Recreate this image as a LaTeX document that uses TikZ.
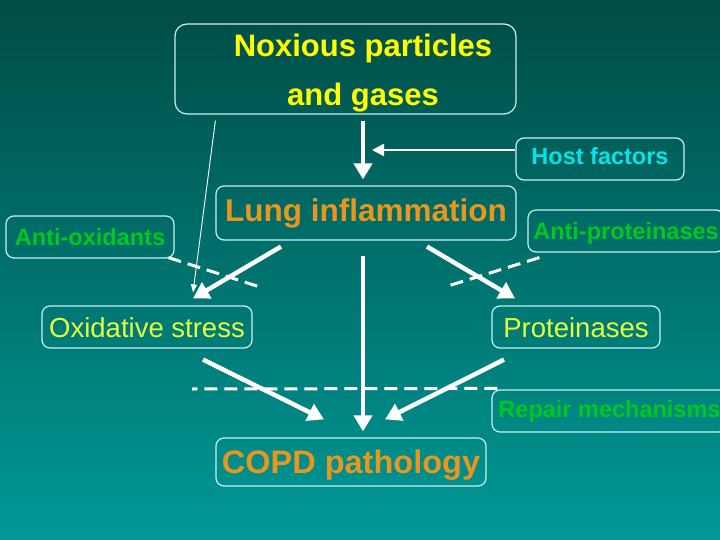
\documentclass[tikz,border=0pt]{standalone}
\usepackage{fontspec}
\setmainfont{Liberation Sans}
\usetikzlibrary{arrows.meta,calc}
\definecolor{bgtop}{RGB}{0,76,70}
\definecolor{bgbot}{RGB}{0,152,150}
\definecolor{boxline}{RGB}{200,240,240}
\definecolor{noxyellow}{RGB}{255,255,0}
\definecolor{paleyellow}{RGB}{228,255,60}
\definecolor{copdorange}{RGB}{232,150,30}
\definecolor{guardgreen}{RGB}{0,200,30}
\definecolor{hostcyan}{RGB}{0,230,230}

\begin{document}
\begin{tikzpicture}
  [x=1pt,y=-1pt,
   box/.style={draw=boxline,line width=1.2pt,rounded corners=8pt,inner sep=0pt,
     text depth=0pt,minimum height=42pt},
   guard/.style={box,text=guardgreen,text height=17pt,font=\fontsize{23.5}{28}\selectfont\bfseries},
   stage/.style={box,text=paleyellow,text height=20pt,font=\fontsize{27.5}{33}\selectfont},
   bigarrow/.style={white,line width=4.5pt,-{Triangle[length=16pt,width=18pt]}},
   blocker/.style={white,line width=3pt,dash pattern=on 13pt off 7pt}]
  \useasboundingbox (0,0) rectangle (720,540);
  \fill[top color=bgtop,bottom color=bgbot] (0,0) rectangle (720,540);

  \node[box,rounded corners=12pt,minimum width=341pt,minimum height=90pt] (noxious) at (345.5,69) {};
  \node[text=noxyellow,font=\fontsize{31}{49}\selectfont\bfseries,align=center] (noxioustext) at (363,73) {Noxious particles\\and gases};
  \node[box,minimum width=168pt,text=hostcyan,text height=17pt,text depth=6pt,font=\fontsize{23.5}{28}\selectfont\bfseries] (host) at (600,159) {Host factors};
  \node[box,minimum width=300pt,minimum height=54pt,text=copdorange,text height=22.5pt,text depth=6pt,font=\fontsize{31.5}{38}\selectfont\bfseries] (lung) at (366,213) {Lung inflammation};
  \node[guard,minimum width=168pt] (antiox) at (90,237) {Anti-oxidants};
  \node[guard,minimum width=196pt] (antiprot) at (626,231) {Anti-proteinases};
  \node[stage,minimum width=210pt] (oxid) at (147,327) {Oxidative stress};
  \node[stage,minimum width=168pt] (prot) at (576,327) {Proteinases};
  \node[guard,minimum width=235pt,text depth=5pt] (repair) at (609.5,411) {Repair mechanisms};
  \node[box,minimum width=270pt,minimum height=48pt,text=copdorange,text height=23.3pt,font=\fontsize{32.5}{39}\selectfont\bfseries] (copd) at (351,462) {COPD pathology};

  % arrow ends, kept a little off the boxes
  \coordinate (noxout)  at ($(noxious.south)+(17.5,6)$);
  \coordinate (noxthin) at ($(noxious.south west)+(41,6)$);
  \coordinate (lungin)  at ($(lung.north)+(-3,-6)$);
  \coordinate (lungl)   at ($(lung.south)+(-85,6)$);
  \coordinate (lungr)   at ($(lung.south)+(61,6)$);
  \coordinate (lungc)   at ($(lung.south)+(-3,15)$);
  \coordinate (oxidin)  at ($(oxid.north)+(46,-7)$);
  \coordinate (oxidthin) at ($(oxid.north)+(46,-13)$);
  \coordinate (oxidout) at ($(oxid.south)+(56,11)$);
  \coordinate (protin)  at ($(prot.north)+(-61,-7)$);
  \coordinate (protout) at ($(prot.south)+(-72,11)$);
  \coordinate (copdl)   at ($(copd.north)+(-27,-18)$);
  \coordinate (copdc)   at ($(copd.north)+(12,-6)$);
  \coordinate (copdr)   at ($(copd.north)+(34,-18)$);
  \coordinate (hostout) at ($(host.west)+(0,-9)$);
  \coordinate (hostin)  at (372,150);
  \coordinate (antioxout)   at ($(antiox.south east)+(-6,-1)$);
  \coordinate (antiprotout) at ($(antiprot.south west)+(12,5)$);
  \coordinate (repairout)   at ($(repair.north west)+(6,-1)$);
  \coordinate (oxblock)   at (260,287);
  \coordinate (protblock) at (448,286);
  \coordinate (repairend) at (192,389);

  \foreach \from/\to in {noxout/lungin,lungl/oxidin,lungr/protin,lungc/copdc,oxidout/copdl,protout/copdr}
    \draw [bigarrow] (\from) -- (\to);
  \draw [white,line width=2.5pt,-{Triangle[length=12pt,width=12pt]}] (hostout) -- (hostin);
  \draw [white,line width=0.9pt,-{Triangle[length=8pt,width=6pt]}] (noxthin) -- (oxidthin);
  \foreach \from/\to in {antioxout/oxblock,antiprotout/protblock,repairout/repairend}
    \draw [blocker] (\from) -- (\to);
\end{tikzpicture}
\end{document}
